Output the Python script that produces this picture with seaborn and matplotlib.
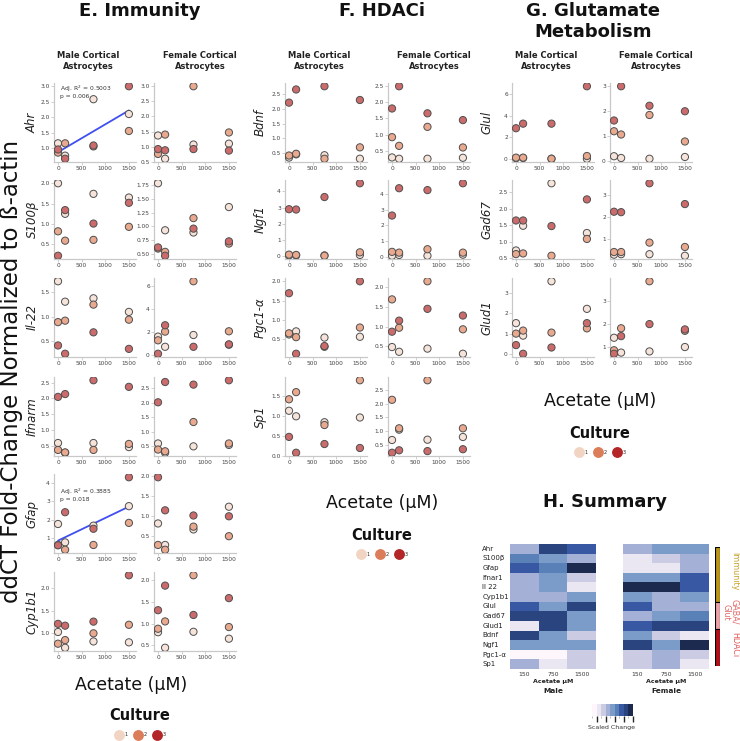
import numpy as np
import pandas as pd
import matplotlib
matplotlib.use("Agg")
import matplotlib.pyplot as plt
import seaborn as sns
from matplotlib.colors import ListedColormap, BoundaryNorm
from matplotlib.cm import ScalarMappable
from matplotlib.lines import Line2D
from matplotlib.ticker import MaxNLocator

# ---------------- data ----------------
doses = [0, 150, 750, 1500]
cultures = ["1", "2", "3"]

# each gene: [culture1, culture2, culture3] values at doses 0,150,750,1500
ahr_male = [[1.15, 0.75, 2.58, 2.10], [0.85, 1.15, 1.05, 1.55], [0.95, 0.65, 1.08, 3.00]]
ahr_female = [[1.37, 0.60, 1.07, 1.10], [0.76, 1.40, 3.00, 1.47], [0.92, 0.88, 0.92, 0.87]]
s100b_male = [[2.00, 1.25, 1.74, 1.65], [0.82, 0.59, 0.61, 0.93], [0.22, 1.34, 1.01, 1.52]]
s100b_female = [[1.78, 0.93, 0.89, 1.35], [0.60, 0.54, 1.15, 0.69], [0.62, 0.47, 0.96, 0.73]]
il22_male = [[1.73, 1.31, 1.38, 1.10], [0.89, 0.92, 1.25, 0.94], [0.41, 0.24, 0.68, 0.34]]
il22_female = [[1.60, 0.72, 1.74, 0.90], [1.28, 2.03, 6.38, 2.06], [0.12, 2.58, 0.72, 0.93]]
ifnarm_male = [[0.58, 0.27, 0.58, 0.45], [0.36, 0.28, 0.36, 0.55], [2.05, 2.14, 2.58, 2.37]]
ifnarm_female = [[0.60, 0.28, 0.50, 0.55], [0.39, 0.33, 1.34, 0.60], [2.02, 2.72, 2.63, 2.78]]
gfap_male = [[1.76, 0.76, 1.67, 2.73], [0.62, 0.36, 0.62, 1.82], [0.60, 2.40, 1.50, 4.30]]
gfap_female = [[0.82, 0.28, 0.67, 1.24], [0.28, 0.16, 0.74, 0.50], [1.98, 1.15, 1.02, 1.00]]
cyp1b1_male = [[1.03, 0.68, 0.82, 0.80], [0.77, 0.85, 1.00, 1.19], [1.21, 1.17, 1.26, 2.29]]
cyp1b1_female = [[0.80, 0.44, 0.81, 0.65], [0.88, 1.05, 2.12, 0.92], [1.31, 1.88, 1.20, 1.59]]

bdnf_male = [[0.34, 0.45, 0.42, 0.30], [0.41, 0.47, 0.30, 0.69], [2.22, 2.67, 2.78, 2.31]]
bdnf_female = [[0.29, 0.25, 0.25, 0.28], [0.92, 0.65, 1.24, 0.60], [1.81, 2.50, 1.66, 1.45]]
ngf1_male = [[0.05, 0.05, 0.05, 0.08], [0.10, 0.08, 0.03, 0.24], [2.90, 2.88, 3.65, 4.50]]
ngf1_female = [[0.05, 0.10, 0.05, 0.12], [0.30, 0.25, 0.47, 0.25], [2.64, 4.40, 4.28, 4.72]]
pgc1a_male = [[0.62, 0.70, 0.54, 0.56], [0.65, 0.55, 0.30, 0.80], [1.69, 0.12, 0.32, 2.00]]
pgc1a_female = [[0.48, 0.36, 0.44, 0.31], [1.69, 0.97, 2.15, 0.93], [0.87, 1.15, 1.45, 1.28]]
sp1_male = [[1.13, 0.99, 0.84, 0.96], [1.42, 1.60, 0.77, 1.90], [0.47, 0.07, 0.29, 0.19]]
sp1_female = [[0.67, 1.05, 0.68, 0.78], [2.15, 1.10, 2.87, 1.10], [0.20, 0.29, 0.26, 0.33]]

glul_male = [[0.10, 0.12, 0.05, 0.05], [0.15, 0.15, 0.05, 0.30], [2.85, 3.27, 3.27, 6.70]]
glul_female = [[0.20, 0.13, 0.10, 0.17], [1.20, 1.07, 1.85, 0.79], [1.63, 3.00, 2.22, 2.00]]
gad67_male = [[0.74, 1.49, 2.78, 1.27], [0.63, 0.65, 0.58, 1.09], [1.65, 1.65, 1.48, 2.29]]
gad67_female = [[0.28, 0.30, 0.30, 0.23], [0.40, 0.40, 0.83, 0.63], [2.24, 2.22, 3.54, 2.59]]
glud1_male = [[1.52, 0.90, 3.60, 2.23], [1.00, 1.15, 1.05, 1.26], [0.43, 0.00, 0.31, 1.52]]
glud1_female = [[1.40, 0.76, 0.81, 1.00], [0.86, 1.81, 3.84, 1.70], [0.71, 1.47, 1.99, 1.76]]

immunity_genes = ["Ahr", "S100β", "Il-22", "Ifnarm", "Gfap", "Cyp1b1"]
hdaci_genes = ["Bdnf", "Ngf1", "Pgc1-α", "Sp1"]
glut_genes = ["Glul", "Gad67", "Glud1"]

regression_notes = {("Ahr", "male"): "Adj. R$^2$ = 0.5003\np = 0.006",
                    ("Gfap", "male"): "Adj. R$^2$ = 0.3885\np = 0.018"}

# summary heatmap (scaled change level 0..8)
hm_genes = ["Ahr", "S100β", "Gfap", "Ifnar1", "Il 22", "Cyp1b1", "Glul", "Gad67",
            "Glud1", "Bdnf", "Ngf1", "Pgc1-α", "Sp1"]
hm_conc = ["150", "750", "1500"]
hm_male = [[3, 7, 6], [5, 4, 3], [6, 5, 8], [3, 4, 2], [3, 4, 1], [3, 3, 4], [6, 4, 7],
           [7, 7, 4], [1, 7, 4], [7, 4, 2], [4, 4, 4], [0, 0, 2], [3, 1, 2]]
hm_female = [[3, 4, 4], [1, 2, 3], [1, 1, 3], [4, 4, 6], [8, 8, 6], [4, 3, 4], [6, 3, 3],
             [3, 4, 5], [6, 7, 7], [4, 2, 1], [7, 4, 8], [2, 3, 2], [2, 3, 1]]
group_names = ["Immunity", "GABA/\nGlut", "HDACi"]
group_sizes = [6, 3, 4]

# ---------------- style ----------------
sns.set_theme(style="white")
plt.rcParams["font.family"] = ["DejaVu Sans"]

W, H = 740, 741
fig = plt.figure(figsize=(W / 100, H / 100), dpi=100)

point_colors = ["#f6e4da", "#e9a98e", "#cc6b6b"]
legend_colors = ["#f2d4c2", "#dc7d5a", "#b32526"]
hm_colors = ["#fdf6fa", "#ebe7f2", "#cbcbe3", "#a5b0d6", "#7b9cc9",
             "#5a80b8", "#3858a4", "#2a4480", "#1b2a4e"]
group_colors = ["#b8961a", "#e9a3a8", "#b0121b"]
group_text_colors = ["#c9a227", "#e06666", "#e05555"]


def px_axes(left, top, w, h):
    return fig.add_axes([left / W, 1 - (top + h) / H, w / W, h / H])


def ftext(x, y, s, **kw):
    fig.text(x / W, 1 - y / H, s, **kw)


def long_df(values):
    rows = []
    for ci, c in enumerate(cultures):
        for di, d in enumerate(doses):
            rows.append({"dose": d, "value": values[ci][di], "culture": c})
    return pd.DataFrame(rows)


def scatter_panel(ax, values, note=None):
    df = long_df(values)
    sns.scatterplot(data=df, x="dose", y="value", hue="culture", hue_order=cultures,
                    palette=point_colors, s=27, edgecolor="#4f4f4f", linewidth=0.7,
                    legend=False, ax=ax, zorder=3)
    if note is not None:
        sns.regplot(data=df, x="dose", y="value", scatter=False, ci=None, ax=ax,
                    color="#3f4ff0", line_kws={"lw": 1.3, "zorder": 2})
        ax.text(0.07, 0.99 if "0.5003" in note else 0.84, note, transform=ax.transAxes,
                fontsize=4.3, va="top", ha="left", color="#333333", linespacing=1.1)
    ax.set_xlim(-85, 1650)
    ax.margins(y=0.045)
    ax.set_xticks([0, 500, 1000, 1500])
    ax.yaxis.set_major_locator(MaxNLocator(nbins=6, steps=[1, 2, 2.5, 5, 10]))
    ax.set_xlabel("")
    ax.set_ylabel("")
    for side in ["top", "right"]:
        ax.spines[side].set_visible(False)
    for side in ["left", "bottom"]:
        ax.spines[side].set_color("#c8c8c8")
        ax.spines[side].set_linewidth(0.9)
    ax.tick_params(labelsize=4.2, labelcolor="#444444", color="#c8c8c8",
                   length=2, width=0.6, pad=1, left=True, bottom=True)
    ax.set_facecolor("white")


row_tops = [83, 180, 278, 377, 474, 572]
row_h = 79
col_w = 82


def draw_block(genes, arrays, male_left, female_left, gene_x, title_lines, title_cx):
    for r, g in enumerate(genes):
        top = row_tops[r]
        axm = px_axes(male_left, top, col_w, row_h)
        scatter_panel(axm, arrays[r][0], regression_notes.get((g, "male")))
        axf = px_axes(female_left, top, col_w, row_h)
        scatter_panel(axf, arrays[r][1], regression_notes.get((g, "female")))
        ftext(gene_x, top + row_h / 2, g, rotation=90, ha="center", va="center",
              fontsize=8.5, style="italic", color="#222222")
    for i, t in enumerate(title_lines):
        ftext(title_cx, 16 + i * 21, t, ha="center", va="baseline", fontsize=13,
              fontweight="bold", color="#111111")
    ftext(male_left + 34, 61, "Male Cortical\nAstrocytes", ha="center", va="center",
          fontsize=6, fontweight="bold", color="#222222", linespacing=1.15)
    ftext(female_left + 46, 61, "Female Cortical\nAstrocytes", ha="center", va="center",
          fontsize=6, fontweight="bold", color="#222222", linespacing=1.15)


def culture_legend(cx, ty):
    ftext(cx, ty, "Culture", ha="center", va="center", fontsize=10.5,
          fontweight="bold", color="#111111")
    handles = [Line2D([], [], marker="o", ls="", markersize=6.8, mfc=c, mec=c)
               for c in legend_colors]
    fig.legend(handles, cultures, loc="center", ncol=3, frameon=False,
               bbox_to_anchor=(cx / W, 1 - (ty + 19) / H), fontsize=3.6,
               handletextpad=0.2, columnspacing=1.0, handlelength=2.0)


# Panel E
draw_block(immunity_genes,
           [(ahr_male, ahr_female), (s100b_male, s100b_female), (il22_male, il22_female),
            (ifnarm_male, ifnarm_female), (gfap_male, gfap_female), (cyp1b1_male, cyp1b1_female)],
           54, 154, 32, ["E. Immunity"], 140)
ftext(131, 685, "Acetate (μM)", ha="center", va="center", fontsize=12.5, color="#111111")
culture_legend(140, 716)
ftext(12, 371, "ddCT Fold-Change Normalized to ß-actin", rotation=90, ha="center",
      va="center", fontsize=16.5, color="#111111")

# Panel F
draw_block(hdaci_genes,
           [(bdnf_male, bdnf_female), (ngf1_male, ngf1_female), (pgc1a_male, pgc1a_female),
            (sp1_male, sp1_female)],
           285, 388, 260, ["F. HDACi"], 382)
ftext(382, 503, "Acetate (μM)", ha="center", va="center", fontsize=12.5, color="#111111")
culture_legend(382, 535)

# Panel G
draw_block(glut_genes,
           [(glul_male, glul_female), (gad67_male, gad67_female), (glud1_male, glud1_female)],
           512, 610, 487, ["G. Glutamate", "Metabolism"], 593)
ftext(600, 401, "Acetate (μM)", ha="center", va="center", fontsize=12.5, color="#111111")
culture_legend(600, 433)

# Panel H
ftext(605, 507, "H. Summary", ha="center", va="baseline", fontsize=13, fontweight="bold",
      color="#111111")
cmap = ListedColormap(hm_colors)
hm_top, hm_h = 544, 125
for sex_label, data, left, show_rows in [("Male", hm_male, 510, True),
                                          ("Female", hm_female, 623, False)]:
    ax = px_axes(left, hm_top, 86, hm_h)
    dfh = pd.DataFrame(data, index=hm_genes, columns=hm_conc)
    sns.heatmap(dfh, ax=ax, cmap=cmap, vmin=-0.5, vmax=8.5, cbar=False,
                xticklabels=True, yticklabels=show_rows)
    ax.tick_params(length=0, labelsize=4.3, pad=2, colors="#333333")
    if show_rows:
        ax.set_yticklabels(hm_genes, rotation=0, ha="left", fontsize=5, color="#222222")
        ax.tick_params(axis="y", pad=20)
    ax.set_xticklabels(hm_conc, rotation=0)
    ax.set_xlabel("")
    ax.set_ylabel("")
    cx = left + 43
    ftext(cx, 682, "Acetate μM", ha="center", va="center", fontsize=4.5,
          fontweight="bold", color="#222222")
    ftext(cx, 691, sex_label, ha="center", va="center", fontsize=5.3,
          fontweight="bold", color="#222222")

# side group bar
axg = px_axes(715, 547, 5, 119)
bottoms = np.cumsum([0] + group_sizes[:-1])
axg.bar([0] * len(group_sizes), group_sizes, bottom=bottoms, width=1.0,
        color=group_colors, edgecolor="black", linewidth=0.8)
axg.set_xlim(-0.5, 0.5)
axg.set_ylim(sum(group_sizes), 0)
axg.axis("off")
label_pos = [(735, 571), (730, 612), (735, 645)]
for name, (lx, ly), tc in zip(group_names, label_pos, group_text_colors):
    ftext(lx, ly, name, rotation=-90, ha="center", va="center", fontsize=5.8,
          color=tc, linespacing=1.0)

# colorbar
cax = px_axes(592, 704, 41, 12)
norm = BoundaryNorm(np.arange(-0.5, 9.5, 1), cmap.N)
cb = fig.colorbar(ScalarMappable(norm=norm, cmap=cmap), cax=cax, orientation="horizontal")
cb.outline.set_visible(False)
cb.set_ticks([-0.5, 1.5, 3.5, 5.5, 7.5])
cb.set_ticklabels([])
cax.tick_params(length=1.5, width=0.4, color="#888888")
ftext(612, 727, "Scaled Change", ha="center", va="center", fontsize=4.5, color="#333333")

fig.savefig("out.png", dpi=100, facecolor="white")
